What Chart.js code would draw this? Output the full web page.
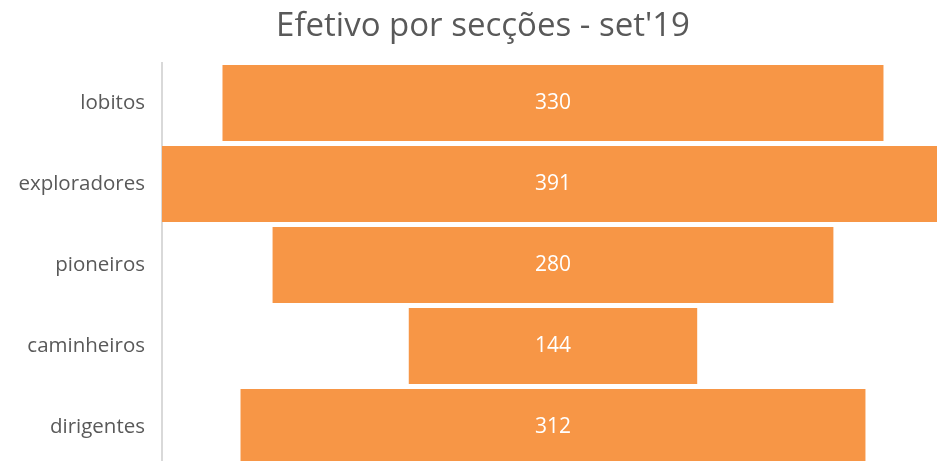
<!DOCTYPE html>
<html>
<head>
<meta charset="utf-8">
<script src="https://cdn.jsdelivr.net/npm/chart.js@4"></script>
<style>
  html, body { margin: 0; padding: 0; overflow: hidden; background: #fff; }
  #wrap { position: relative; width: 966px; height: 470px; }
</style>
</head>
<body>
<div id="wrap"><canvas id="funnel"></canvas></div>
<script>
const sections = ['lobitos', 'exploradores', 'pioneiros', 'caminheiros', 'dirigentes'];
const members = [330, 391, 280, 144, 312];

const fontFamily = '"Open Sans", sans-serif';

// funnel: each bar is centred on zero
const centred = members.map(v => [-v / 2, v / 2]);

const barLabels = {
  id: 'barLabels',
  afterDatasetsDraw(chart) {
    const ctx = chart.ctx;
    const meta = chart.getDatasetMeta(0);
    ctx.save();
    ctx.fillStyle = '#ffffff';
    ctx.font = '21px ' + fontFamily;
    ctx.textAlign = 'center';
    ctx.textBaseline = 'middle';
    meta.data.forEach((bar, i) => {
      const mid = (bar.x + bar.base) / 2;
      ctx.fillText(members[i], mid, bar.y);
    });
    ctx.restore();
  }
};

const ctx = document.getElementById('funnel').getContext('2d');
new Chart(ctx, {
  type: 'bar',
  data: {
    labels: sections,
    datasets: [{
      data: centred,
      backgroundColor: '#F79646',
      borderWidth: 0,
      barPercentage: 0.94,
      categoryPercentage: 1
    }]
  },
  options: {
    indexAxis: 'y',
    responsive: true,
    maintainAspectRatio: false,
    animation: false,
    layout: { padding: { top: 0, bottom: 2.5, left: 0, right: 0 } },
    plugins: {
      legend: { display: false },
      tooltip: { enabled: false },
      title: {
        display: true,
        text: "Efetivo por secções - set'19",
        color: '#595959',
        font: { family: fontFamily, size: 33, weight: 'normal' },
        padding: { top: 7, bottom: 15.9 }
      }
    },
    scales: {
      x: {
        display: false,
        min: -195.2,
        max: 206.2
      },
      y: {
        grid: { display: false, drawTicks: false },
        border: { display: true, color: '#D9D9D9', width: 2 },
        ticks: {
          color: '#595959',
          font: { family: fontFamily, size: 20.5 },
          padding: 17
        },
        afterFit(scale) {
          scale.width = 162;
          // no extra room for the first / last label
          scale.paddingTop = 0;
          scale.paddingBottom = 0;
        }
      }
    }
  },
  plugins: [barLabels]
});
</script>
</body>
</html>
